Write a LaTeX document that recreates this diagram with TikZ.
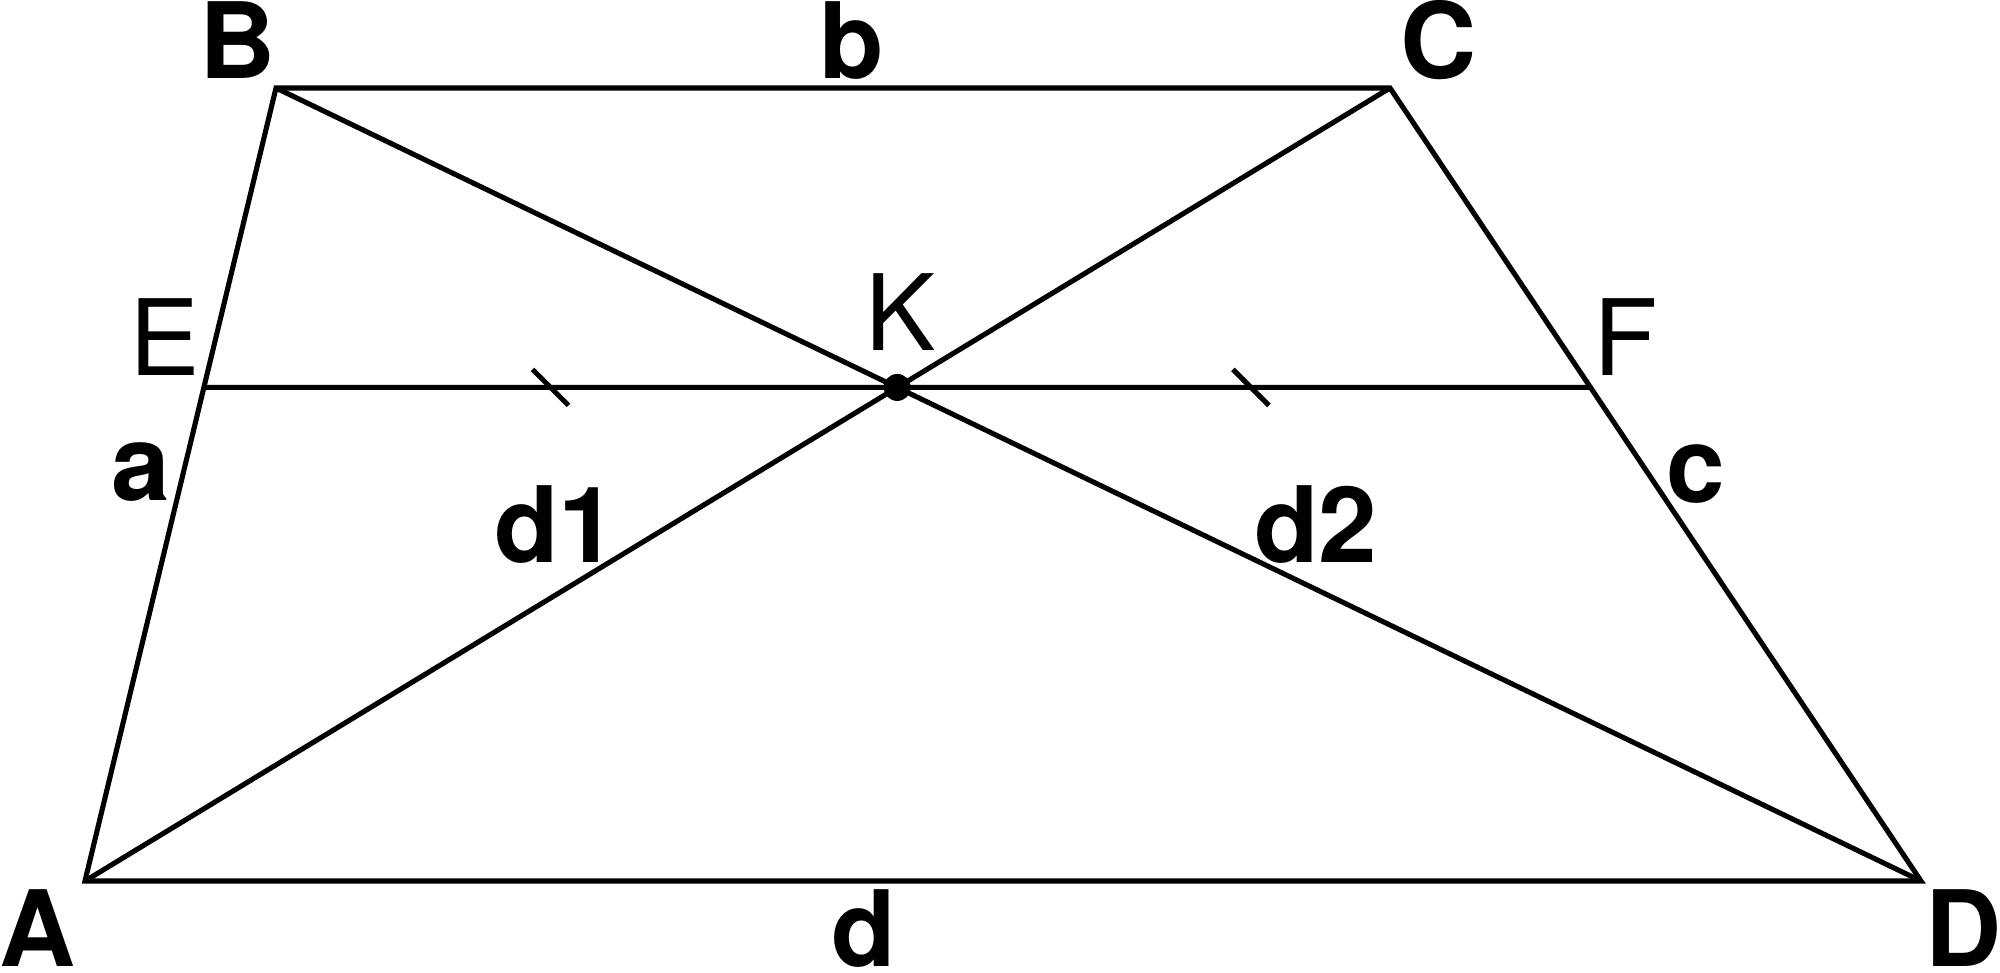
\documentclass[tikz,border=0pt]{standalone}
\usepackage{fontspec}
\setmainfont{TeX Gyre Heros}
\usepackage{tikz}
\usetikzlibrary{calc}
\usetikzlibrary{positioning}
\tikzset{
  lbl/.style={anchor=base, inner sep=0pt, font=\fontsize{30}{36}\selectfont\bfseries},
  plbl/.style={anchor=base, inner sep=0pt, font=\fontsize{30}{36}\selectfont},
}

\begin{document}
\begin{tikzpicture}[line width=1.45pt]
      \useasboundingbox (0, 0) rectangle (20, 9.72);

      \coordinate (A) at (0.85, 0.91);
      \coordinate (B) at (2.76, 8.84);
      \coordinate (C) at (13.90, 8.84);
      \coordinate (D) at (19.21, 0.91);
      \coordinate (K) at (intersection of A--C and B--D);
      \coordinate (Kr) at ($(K)+(1, 0)$);
      \coordinate (E) at (intersection of A--B and K--Kr);
      \coordinate (F) at (intersection of C--D and K--Kr);

      \draw (A) -- (B) -- (C) -- (D) -- cycle;
      \draw (A) -- (C);
      \draw (B) -- (D);
      \draw (E) -- (F);

      \coordinate (t1) at ($(E)!0.5!(K)$);
      \coordinate (t2) at ($(K)!0.51!(F)$);
      \draw ($(t1)+(-0.18, 0.18)$) -- ($(t1)+(0.18, -0.18)$);
      \draw ($(t2)+(-0.18, 0.18)$) -- ($(t2)+(0.18, -0.18)$);

      \fill (K) circle (0.135);

      \node (lA) at (0.38, 0.06) [lbl] {A};
      \node (ld) at (8.64, 0.06) [lbl] {d};
      \node (lD) at (19.64, 0.06) [lbl] {D};
      \node (lB) at (2.38, 8.93) [lbl] {B};
      \node (lb) at (8.52, 8.93) [lbl] {b};
      \node (lC) at (14.39, 8.93) [lbl] {C};
      \node (lE) at (1.65, 5.97) [plbl] {E};
      \node (lK) at (9.01, 6.22) [plbl] {K};
      \node (lF) at (16.26, 5.97) [plbl] {F};
      \node (la) at (1.41, 4.72) [lbl] {a};
      \node (lc) at (16.96, 4.70) [lbl] {c};
      \node (ld1) at (5.56, 4.10) [lbl] {d1};
      \node (ld2) at (13.16, 4.10) [lbl] {d2};
    \end{tikzpicture}
\end{document}
